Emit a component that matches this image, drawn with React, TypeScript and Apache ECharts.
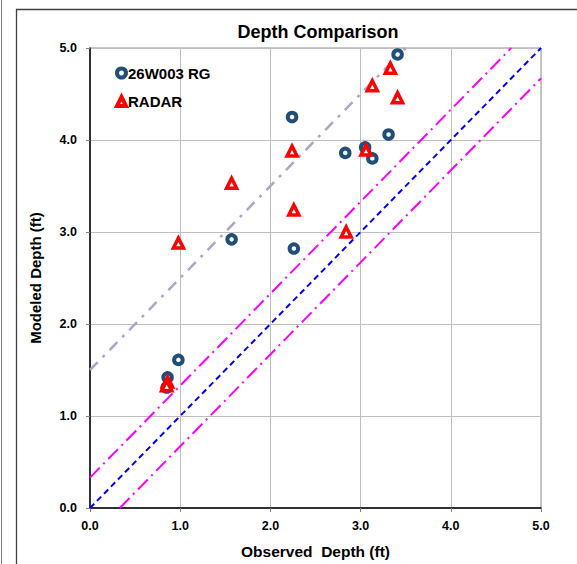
import React, { useEffect, useRef } from "react";
import * as echarts from "echarts";

const axisTicks = [0, 1, 2, 3, 4, 5];
const rgObserved = [3.41, 2.24, 3.05, 2.83, 3.13, 3.31, 1.57, 2.26, 0.98, 0.86, 0.85];
const rgModeled = [4.93, 4.25, 3.92, 3.86, 3.8, 4.06, 2.92, 2.82, 1.61, 1.42, 1.31];
const radarObserved = [3.33, 3.13, 3.41, 2.24, 3.06, 1.57, 2.26, 2.84, 0.98, 0.86, 0.85];
const radarModeled = [4.78, 4.59, 4.46, 3.88, 3.89, 3.53, 3.24, 3.0, 2.88, 1.37, 1.33];
const oneToOne = [[0, 0], [5, 5]];
const upperBand = [[0, 0.33], [4.67, 5]];
const lowerBand = [[0.33, 0], [5, 4.67]];
const offsetLine = [[0, 1.5], [3.5, 5]];

const font = "'Liberation Sans', Arial, sans-serif";

export default function App() {
  const ref = useRef<HTMLDivElement>(null);
  useEffect(() => {
    const chart = echarts.init(ref.current!, null, { renderer: "svg" });
    const rg = rgObserved.map((x, i) => [x, rgModeled[i]]);
    const radar = radarObserved.map((x, i) => [x, radarModeled[i]]);
    const lineSeries = (data: number[][], color: string, type: any, width: number) => ({
      type: "line",
      data,
      symbol: "none",
      silent: true,
      lineStyle: { color, type, width, cap: "butt" },
      z: 1,
    });
    chart.setOption({
      animation: false,
      backgroundColor: "#fff",
      title: {
        text: "Depth Comparison",
        left: 313,
        textAlign: "center",
        top: 18,
        textStyle: { fontFamily: font, fontSize: 18, fontWeight: "bold", color: "#000" },
      },
      graphic: [
        { type: "line", shape: { x1: 1.5, y1: 0, x2: 1.5, y2: 564 }, style: { stroke: "#808080", lineWidth: 1 } },
        { type: "rect", shape: { x: 16.5, y: 9.5, width: 800, height: 800 }, style: { fill: "none", stroke: "#404040", lineWidth: 1.3 } },
      ],
      legend: {
        left: 115,
        top: 65,
        padding: 0,
        orient: "vertical",
        itemGap: 12.4,
        itemWidth: 9,
        itemHeight: 9,
        textStyle: { fontFamily: font, fontSize: 15, lineHeight: 16, fontWeight: "bold", color: "#000", padding: [0, 0, 0, -3] },
        data: [
          { name: "26W003 RG", icon: "circle", itemStyle: { color: "#fff", borderColor: "#1F4E79", borderWidth: 4 } },
          { name: "RADAR", icon: "triangle", itemStyle: { color: "#fff", borderColor: "#FF0000", borderWidth: 4 } },
        ],
      },
      grid: { left: 90, top: 48, width: 451, height: 464, show: true, borderColor: "#8c8c8c", borderWidth: 1 },
      xAxis: {
        type: "value",
        min: axisTicks[0],
        max: axisTicks[axisTicks.length - 1],
        interval: 1,
        name: "Observed  Depth (ft)",
        nameLocation: "middle",
        nameGap: 35,
        nameTextStyle: { fontFamily: font, fontSize: 15.5, fontWeight: "bold", color: "#000" },
        axisLine: { show: true, lineStyle: { color: "#000", width: 1.5 } },
        axisTick: { show: true, length: 4, lineStyle: { color: "#808080" } },
        axisLabel: { fontFamily: font, fontSize: 12.5, fontWeight: "bold", color: "#000", margin: 11, formatter: (v: number) => v.toFixed(1) },
        splitLine: { show: true, lineStyle: { color: "#bfbfbf", width: 1 } },
      },
      yAxis: {
        type: "value",
        min: axisTicks[0],
        max: axisTicks[axisTicks.length - 1],
        interval: 1,
        name: "Modeled Depth (ft)",
        nameLocation: "middle",
        nameGap: 47,
        nameTextStyle: { fontFamily: font, fontSize: 15, fontWeight: "bold", color: "#000" },
        axisLine: { show: true, lineStyle: { color: "#000", width: 1.5 } },
        axisTick: { show: true, length: 4, lineStyle: { color: "#808080" } },
        axisLabel: { fontFamily: font, fontSize: 12.5, fontWeight: "bold", color: "#000", margin: 13, formatter: (v: number) => v.toFixed(1) },
        splitLine: { show: true, lineStyle: { color: "#bfbfbf", width: 1 } },
      },
      series: [
        lineSeries(offsetLine, "#B3A2C7", [11, 7, 3, 7], 2.5),
        lineSeries(upperBand, "#FF00FF", [14, 5, 2, 5], 2),
        lineSeries(lowerBand, "#FF00FF", [14, 5, 2, 5], 2),
        lineSeries(oneToOne, "#0000FF", [6, 4], 2),
        {
          name: "26W003 RG",
          type: "scatter",
          data: rg,
          symbol: "circle",
          symbolSize: 8.5,
          itemStyle: { color: "#fff", borderColor: "#1F4E79", borderWidth: 4, opacity: 1 },
          z: 3,
        },
        {
          name: "RADAR",
          type: "scatter",
          data: radar,
          symbol: "triangle",
          symbolSize: 10,
          itemStyle: { color: "#fff", borderColor: "#FF0000", borderWidth: 3.5, opacity: 1 },
          z: 4,
        },
      ],
    });
    return () => chart.dispose();
  }, []);
  return <div ref={ref} style={{ position: "fixed", left: 0, top: 0, width: 577, height: 564 }} />;
}
